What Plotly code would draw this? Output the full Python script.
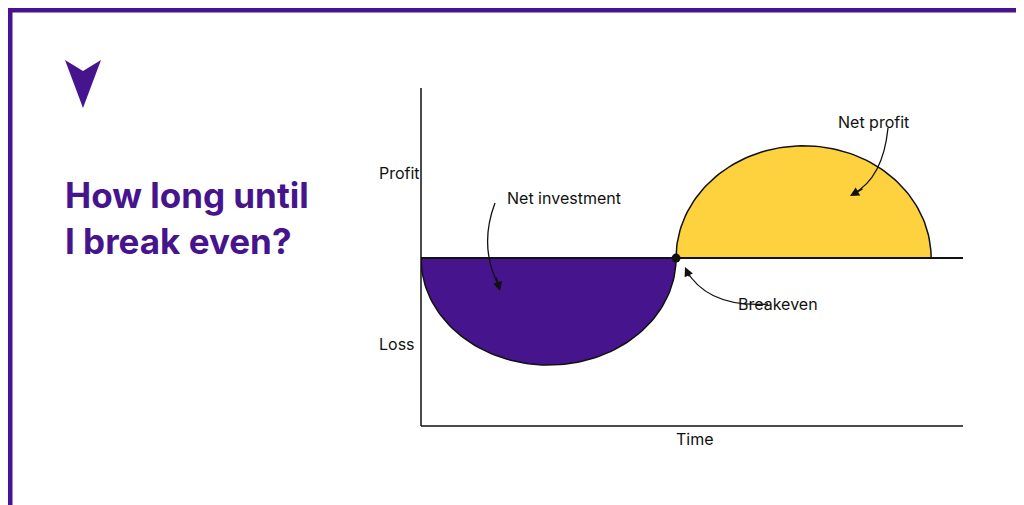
import numpy as np
import plotly.graph_objects as go

# chart values (x in time units, y in profit units)
investment_start = 0.0
breakeven_x = 1.0
profit_end = 2.0
loss_depth = -1.0
profit_height = 1.05
x_range = [0, 2.125]
y_range = [-1.57, 1.59]

axis_labels = {"Profit": 0.8, "Loss": -0.8}
PURPLE = "#46148C"
YELLOW = "#FDD23E"

W, H = 1024, 505
L, R, T, B = 413, 69, 80, 87
PW, PH = W - L - R, H - T - B


def px(x, y):
    # pixel -> paper coordinates
    return (x - L) / PW, (H - B - y) / PH


def half_ellipse(x0, x1, height, n=90):
    t = np.linspace(np.pi, 0, n)
    cx, rx = (x0 + x1) / 2, (x1 - x0) / 2
    return cx + rx * np.cos(t), height * np.sin(t)


fig = go.Figure()

lx, ly = half_ellipse(investment_start, breakeven_x, loss_depth)
fig.add_trace(go.Scatter(x=lx, y=ly, fill="toself", fillcolor=PURPLE, mode="lines",
                         line=dict(color="#111", width=1.5), hoverinfo="skip"))
gx, gy = half_ellipse(breakeven_x, profit_end, profit_height)
fig.add_trace(go.Scatter(x=gx, y=gy, fill="toself", fillcolor=YELLOW, mode="lines",
                         line=dict(color="#111", width=1.5), hoverinfo="skip"))
fig.add_trace(go.Scatter(x=[breakeven_x], y=[0], mode="markers",
                         marker=dict(color="#111", size=9), hoverinfo="skip"))

shapes = [
    dict(type="line", xref="x", yref="y", x0=x_range[0], x1=x_range[1], y0=0, y1=0,
         line=dict(color="#111", width=2)),
    dict(type="line", xref="paper", yref="paper", x0=0, x1=0, y0=0, y1=1,
         line=dict(color="#111", width=1.5)),
    dict(type="line", xref="paper", yref="paper", x0=0, x1=1, y0=0, y1=0,
         line=dict(color="#111", width=1.5)),
]
# border
bx0, by0 = px(2, 2)
bx1, by1 = px(W - 2, H - 2)
shapes.append(dict(type="rect", xref="paper", yref="paper", x0=bx0, x1=bx1, y0=by1, y1=by0,
                   line=dict(color=PURPLE, width=5)))
# arrowhead icon
pts = [px(57, 52), px(75, 100), px(93, 52), px(75, 63)]
path = "M " + " L ".join(f"{a},{b}" for a, b in pts) + " Z"
shapes.append(dict(type="path", xref="paper", yref="paper", path=path,
                   fillcolor=PURPLE, line=dict(width=0)))


def curve(p0, c, p1):
    a, b, d = px(*p0), px(*c), px(*p1)
    return dict(type="path", xref="paper", yref="paper",
                path=f"M {a[0]},{a[1]} Q {b[0]},{b[1]} {d[0]},{d[1]}",
                line=dict(color="#111", width=1.3))


shapes += [
    curve((487, 195), (470, 240), (492, 280)),
    curve((880, 120), (875, 170), (845, 186)),
    curve((760, 296), (700, 300), (678, 262)),
]

font = dict(family="Inter, Roboto, sans-serif", color="#111")
ann = []
for txt, yy in axis_labels.items():
    ann.append(dict(x=px(369, 0)[0], y=yy, xref="paper", yref="y", text=txt,
                    showarrow=False, font=dict(size=16, **font)))
ann.append(dict(x=px(687, 0)[0], y=px(0, 443)[1], xref="paper", yref="paper", text="Time",
                showarrow=False, font=dict(size=16, **font)))
ann.append(dict(x=px(497, 0)[0], y=px(0, 178)[1], xref="paper", yref="paper",
                text="Net investment", showarrow=False, font=dict(size=16, **font)))
ann.append(dict(x=px(903, 0)[0], y=px(0, 102)[1], xref="paper", yref="paper",
                text="Net profit", showarrow=False, font=dict(size=16, **font)))
ann.append(dict(x=px(812, 0)[0], y=px(0, 296)[1], xref="paper", yref="paper",
                text="Breakeven", showarrow=False, font=dict(size=16, **font)))
# arrowheads at curve ends
for (ex, ey), (sx, sy) in [((492, 283), (488, 268)), ((842, 188), (856, 180)), ((677, 259), (682, 270))]:
    a, b = px(ex, ey), px(sx, sy)
    ann.append(dict(x=a[0], y=a[1], ax=b[0], ay=b[1], xref="x domain", yref="y domain",
                    axref="x domain", ayref="y domain", text="", showarrow=True,
                    arrowhead=2, arrowsize=1.4, arrowwidth=1.3, arrowcolor="#111"))
ann.append(dict(x=px(55, 0)[0], y=px(0, 164)[1], xref="paper", yref="paper",
                text="<b>How long until<br>I break even?</b>", showarrow=False,
                xanchor="left", align="left",
                font=dict(family="Inter, Roboto, sans-serif", size=35, color=PURPLE)))

fig.update_layout(
    width=W, height=H, margin=dict(l=L, r=R, t=T, b=B),
    paper_bgcolor="white", plot_bgcolor="white", showlegend=False,
    xaxis=dict(range=x_range, visible=False, fixedrange=True),
    yaxis=dict(range=y_range, visible=False, fixedrange=True),
    shapes=shapes, annotations=ann,
)

fig.write_html("out.html")
